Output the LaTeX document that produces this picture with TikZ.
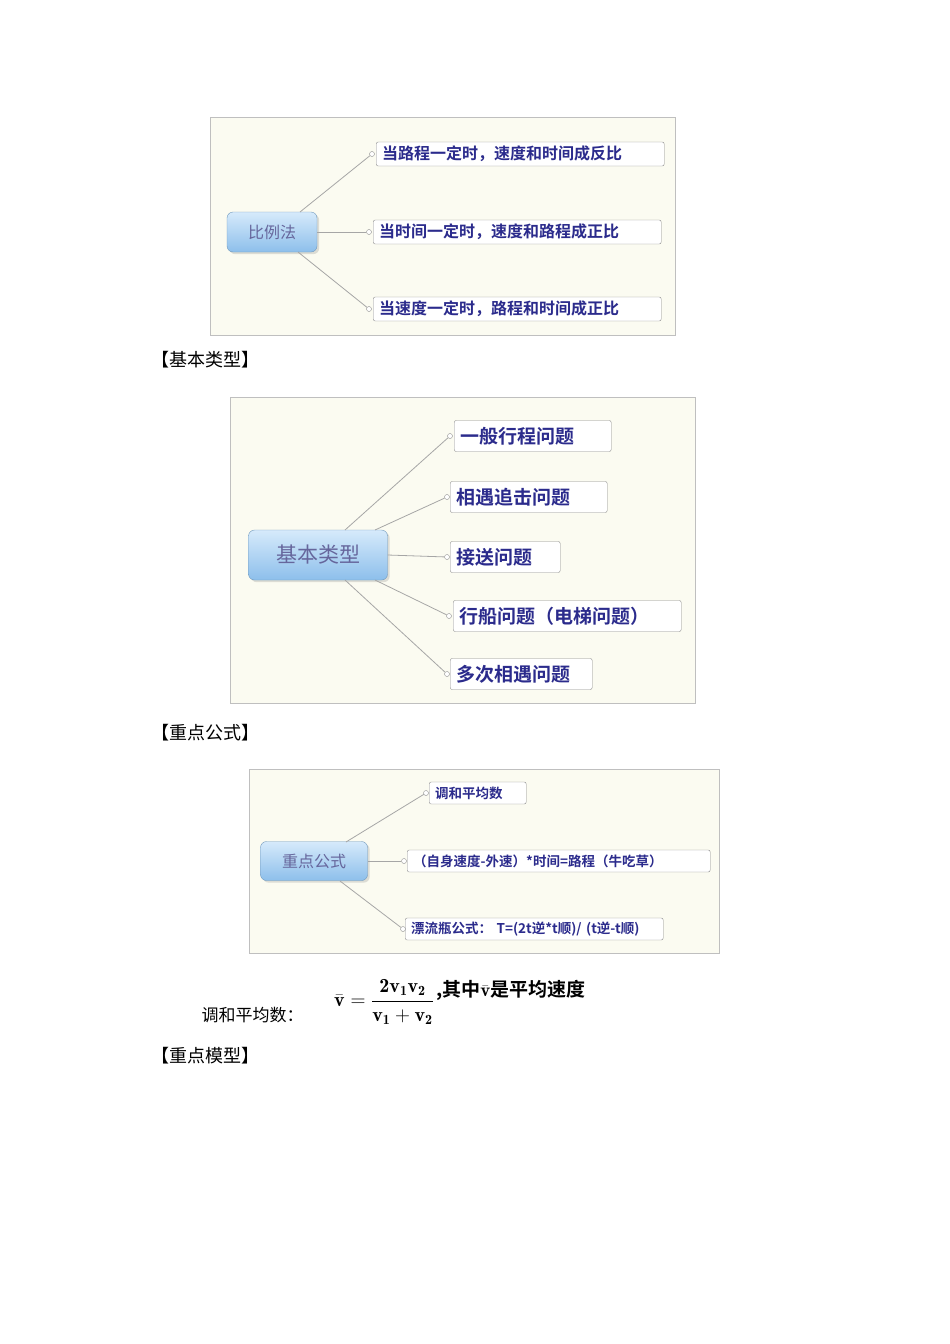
\documentclass[tikz,border=0pt]{standalone}
\usepackage{amsmath}
\usepackage{fontspec}
\newfontfamily\cjk{Noto Sans CJK SC}
\newfontfamily\cjkb{Noto Sans CJK SC Bold}
\usetikzlibrary{shadows}
\definecolor{frbg}{HTML}{FBFBF1}
\definecolor{txt}{HTML}{2B2B8C}
\definecolor{ctop}{HTML}{D6EAFB}
\definecolor{cbot}{HTML}{8DBFEB}
\begin{document}
\begin{tikzpicture}[x=1pt,y=-1pt,
  frame/.style={draw=black!25,fill=frbg,line width=0.8pt},
  central/.style={draw=cbot!80!black,rounded corners=6pt,top color=ctop,bottom color=cbot,text=black!65!blue!60,font=\cjk,inner sep=0pt,drop shadow={opacity=0.25}},
  child/.style={draw=black!45,rounded corners=2pt,fill=white,text=txt,font=\cjkb,inner xsep=6pt,inner ysep=0pt,anchor=west,align=left},
  link/.style={draw=black!35,line width=0.8pt},
  dot/.style={circle,draw=black!45,fill=white,inner sep=0pt,minimum size=5pt},
  head/.style={font=\cjk\fontsize{18}{18}\selectfont,anchor=west}]
\useasboundingbox (0,0) rectangle (950,1344);
% frame 1
\draw[frame] (210,117) rectangle (675,335);
\node[central,minimum width=90,minimum height=40,font=\cjk\fontsize{16}{16}\selectfont] (c1) at (272,232) {比例法};
\tikzset{ch1/.style={child,text width=276,minimum height=24,font=\cjkb\fontsize{16}{16}\selectfont}}
\node[ch1] (a1) at (376,154) {当路程一定时，速度和时间成反比};
\node[ch1] (a2) at (373,232) {当时间一定时，速度和路程成正比};
\node[ch1] (a3) at (373,309) {当速度一定时，路程和时间成正比};
\node[dot] (d1) at (372,154) {}; \node[dot] (d2) at (369,232) {}; \node[dot] (d3) at (369,309) {};
\draw[link] (300,212) -- (d1); \draw[link] (c1.east) -- (d2); \draw[link] (298,252) -- (d3);
\node[head] (h1) at (148,360) {【基本类型】};
% frame 2
\draw[frame] (230,397) rectangle (695,703);
\node[central,minimum width=139,minimum height=50,font=\cjk\fontsize{21}{21}\selectfont] (c2) at (318,555) {基本类型};
\tikzset{ch2/.style={child,minimum height=31,font=\cjkb\fontsize{19}{19}\selectfont}}
\node[ch2,text width=145] (b1) at (454,436) {一般行程问题};
\node[ch2,text width=145] (b2) at (450,497) {相遇追击问题};
\node[ch2,text width=98] (b3) at (450,557) {接送问题};
\node[ch2,text width=216] (b4) at (453,616) {行船问题（电梯问题）};
\node[ch2,text width=130] (b5) at (450,674) {多次相遇问题};
\node[dot] (e1) at (450,436) {}; \node[dot] (e2) at (447,497) {}; \node[dot] (e3) at (447,557) {};
\node[dot] (e4) at (449,616) {}; \node[dot] (e5) at (447,674) {};
\draw[link] (345,530) -- (e1); \draw[link] (375,530) -- (e2); \draw[link] (c2.east) -- (e3);
\draw[link] (375,580) -- (e4); \draw[link] (345,580) -- (e5);
\node[head] (h2) at (148,733) {【重点公式】};
% frame 3
\draw[frame] (249,769) rectangle (719,953);
\node[central,minimum width=107,minimum height=39,font=\cjk\fontsize{16}{16}\selectfont] (c3) at (314,861) {重点公式};
\tikzset{ch3/.style={child,minimum height=22,font=\cjkb\fontsize{13.5}{13.5}\selectfont}}
\node[ch3,text width=85] (f1) at (429,793) {调和平均数};
\node[ch3,text width=291] (f2) at (407,861) {（自身速度-外速）*时间=路程（牛吃草）};
\node[ch3,text width=246] (f3) at (405,929) {漂流瓶公式：\ T=(2t逆*t顺)/ (t逆-t顺)};
\node[dot] (g1) at (426,793) {}; \node[dot] (g2) at (404,861) {}; \node[dot] (g3) at (403,929) {};
\draw[link] (346,842) -- (g1); \draw[link] (c3.east) -- (g2); \draw[link] (340,881) -- (g3);
% formula
\node[font=\cjk\fontsize{17}{17}\selectfont,anchor=west] (lab) at (198,1015) {调和平均数：};
\node[anchor=west,font=\fontsize{20}{24}\selectfont,inner sep=0pt] (fm) at (334,1002) {$\bar{\mathbf{v}}=\dfrac{\mathbf{2v_1v_2}}{\mathbf{v_1+v_2}}$};
\node[anchor=west,font=\cjkb\fontsize{19}{19}\selectfont,inner sep=0pt] (ft) at (436,990) {,其中$\bar{\mathbf{v}}$是平均速度};
\node[head] (h3) at (148,1056) {【重点模型】};
\end{tikzpicture}
\end{document}
